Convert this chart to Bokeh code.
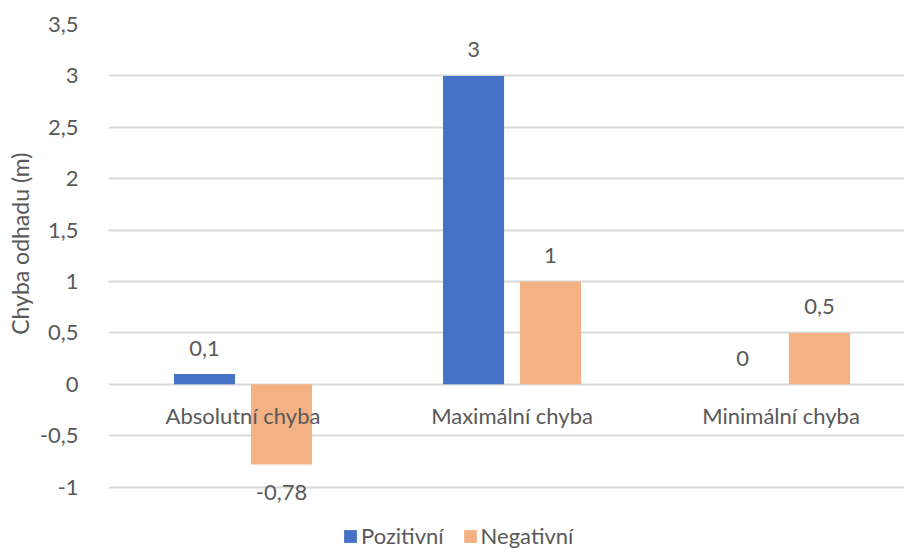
from bokeh.plotting import figure
from bokeh.models import (ColumnDataSource, Range1d, FixedTicker, Legend,
                          LegendItem, Title)
from bokeh.core.properties import value
from bokeh.embed import file_html
from bokeh.resources import INLINE

categories = ["Absolutní chyba", "Maximální chyba", "Minimální chyba"]
series_names = ["Pozitivní", "Negativní"]
pozitivni = [0.1, 3, 0]
negativni = [-0.78, 1, 0.5]
y_ticks = [-1, -0.5, 0, 0.5, 1, 1.5, 2, 2.5, 3, 3.5]
y_tick_labels = ["-1", "-0,5", "0", "0,5", "1", "1,5", "2", "2,5", "3", "3,5"]
y_title = "Chyba odhadu (m)"

colors = ["#4472C4", "#F4B183"]
FONT = "Lato"
TXT = "#595959"
FS = "22px"

def fmt(v):
    return f"{v:g}".replace(".", ",")

idx = list(range(len(categories)))
off = 0.143
bw = 0.227

p = figure(width=904, height=549, output_backend="svg", toolbar_location=None,
           x_range=Range1d(-0.5, 2.459), y_range=Range1d(-1.607, 3.5),
           min_border_left=108, min_border_right=0, min_border_top=24,
           min_border_bottom=0)
p.outline_line_color = None
p.background_fill_color = "white"
p.border_fill_color = "white"

src_p = ColumnDataSource(dict(x=[i - off for i in idx], top=pozitivni,
                              lab=[fmt(v) for v in pozitivni]))
src_n = ColumnDataSource(dict(x=[i + off for i in idx], top=negativni,
                              lab=[fmt(v) for v in negativni]))

r1 = p.vbar(x="x", top="top", bottom=0, width=bw, source=src_p,
            fill_color=colors[0], line_color=None)
r2 = p.vbar(x="x", top="top", bottom=0, width=bw, source=src_n,
            fill_color=colors[1], line_color=None)

# data labels
for src, vals in ((src_p, pozitivni), (src_n, negativni)):
    pos_i = [i for i, v in enumerate(vals) if v >= 0]
    neg_i = [i for i, v in enumerate(vals) if v < 0]
    for sel, yo in ((pos_i, -26), (neg_i, 28)):
        if not sel:
            continue
        s = ColumnDataSource(dict(x=[src.data["x"][i] for i in sel],
                                  y=[src.data["top"][i] for i in sel],
                                  t=[src.data["lab"][i] for i in sel]))
        p.text(x="x", y="y", text="t", source=s, y_offset=yo,
               text_align="center", text_baseline="middle",
               text_font=value(FONT), text_font_size=FS, text_color=TXT)

# category labels at the zero line
cs = ColumnDataSource(dict(x=idx, y=[0] * len(idx), t=categories))
p.text(x="x", y="y", text="t", source=cs, y_offset=31,
       text_align="center", text_baseline="middle",
       text_font=value(FONT), text_font_size=FS, text_color=TXT)

p.xaxis.visible = False
p.xgrid.visible = False
p.ygrid.grid_line_color = "#D9D9D9"
p.ygrid.grid_line_width = 2

p.yaxis.ticker = FixedTicker(ticks=y_ticks)
p.yaxis.major_label_overrides = {t: l for t, l in zip(y_ticks, y_tick_labels)}
p.yaxis.axis_line_color = None
p.yaxis.major_tick_line_color = None
p.yaxis.minor_tick_line_color = None
p.yaxis.major_label_standoff = 24
p.yaxis.major_label_text_font = FONT
p.yaxis.major_label_text_font_size = FS
p.yaxis.major_label_text_color = TXT

ttl = Title(text=y_title, align="right", offset=128, standoff=5,
            text_font=FONT, text_font_size="23px", text_font_style="normal",
            text_color=TXT)
p.add_layout(ttl, "left")

legend = Legend(items=[LegendItem(label=series_names[0], renderers=[r1]),
                       LegendItem(label=series_names[1], renderers=[r2])],
                orientation="horizontal", location=(234, 0),
                glyph_width=16, glyph_height=16, label_standoff=3,
                spacing=18, padding=0, margin=0, border_line_color=None,
                background_fill_alpha=0,
                label_text_font=FONT, label_text_font_size="22px",
                label_text_color=TXT, label_height=20)
p.add_layout(legend, "center")

open("out.html", "w").write(file_html(p, INLINE))
